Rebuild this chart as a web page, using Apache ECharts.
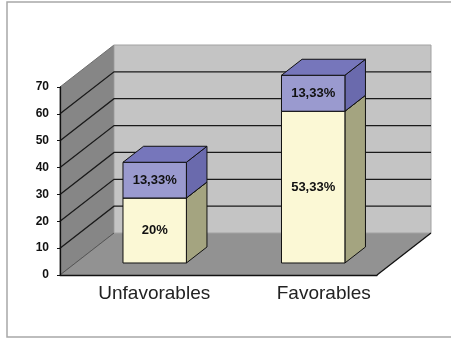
<!DOCTYPE html>
<html>
<head>
<meta charset="utf-8">
<script src="https://cdn.jsdelivr.net/npm/echarts@6/dist/echarts.min.js"></script>
<style>
  html, body { margin: 0; padding: 0; background: #fff; }
  #chart-box { width: 451px; height: 339px; }
</style>
</head>
<body>
<div id="chart-box"></div>
<script>
    // chart values
    var categories = ['Unfavorables', 'Favorables'];
    var lowerValues = [24.2, 56.5];
    var upperValues = [13.3, 13.4];
    var lowerLabels = ['20%', '53,33%'];
    var upperLabels = ['13,33%', '13,33%'];
    var yMax = 70;
    var yStep = 10;

    // pseudo 3d settings
    var DEPTH = [54, -42];
    var BAR_FRONT = 0.286;
    var BAR_BACK = 0.667;
    var FONT = "'Liberation Sans', Arial, sans-serif";

    function renderWalls(params, api) {
        var cs = params.coordSys;
        var x0 = cs.x, x1 = cs.x + cs.width;
        var yT = cs.y, yB = cs.y + cs.height;
        var dx = DEPTH[0], dy = DEPTH[1];
        var children = [];

        // left wall
        children.push({
            type: 'polygon',
            shape: { points: [[x0, yT], [x0 + dx, yT + dy], [x0 + dx, yB + dy], [x0, yB]] },
            style: { fill: '#868686', stroke: '#6e6e6e', lineWidth: 1 }
        });
        // floor
        children.push({
            type: 'polygon',
            shape: { points: [[x0, yB], [x1, yB], [x1 + dx, yB + dy], [x0 + dx, yB + dy]] },
            style: { fill: '#929292', stroke: null }
        });
        // back wall
        children.push({
            type: 'rect',
            shape: { x: x0 + dx, y: yT + dy, width: x1 - x0, height: yB - yT },
            style: { fill: '#c4c4c4', stroke: '#a2a2a2', lineWidth: 1 }
        });
        // grid lines on the walls
        for (var v = 0; v <= yMax; v += yStep) {
            var y = api.coord([0, v])[1];
            if (v === 0) {
                children.push({
                    type: 'line',
                    shape: { x1: x0, y1: y, x2: x0 + dx, y2: y + dy },
                    style: { stroke: '#555', lineWidth: 1 }
                });
                continue;
            }
            if (v === yMax) continue;
            children.push({
                type: 'polyline',
                shape: { points: [[x0, y], [x0 + dx, y + dy], [x1 + dx, y + dy]] },
                style: { stroke: '#1a1a1a', lineWidth: 1.3, fill: null }
            });
        }
        // floor right edge
        children.push({
            type: 'line',
            shape: { x1: x1, y1: yB, x2: x1 + dx, y2: yB + dy },
            style: { stroke: '#111', lineWidth: 1.3 }
        });
        return { type: 'group', children: children };
    }

    function makeBarRenderer(base, labels, colors, showTop) {
        return function (params, api) {
            var i = params.dataIndex;
            var cat = api.value(0);
            var val = api.value(1);
            var start = base ? base[i] : 0;
            var p0 = api.coord([cat, start]);
            var p1 = api.coord([cat, start + val]);
            var w = api.size([1, 0])[0] * 0.4;
            var fx = p0[0] - w / 2 + DEPTH[0] * BAR_FRONT;
            var fy0 = p0[1] + DEPTH[1] * BAR_FRONT;
            var fy1 = p1[1] + DEPTH[1] * BAR_FRONT;
            var ddx = DEPTH[0] * (BAR_BACK - BAR_FRONT);
            var ddy = DEPTH[1] * (BAR_BACK - BAR_FRONT);
            var line = { stroke: '#111', lineWidth: 1 };
            var children = [
                {
                    type: 'polygon',
                    shape: { points: [[fx + w, fy0], [fx + w + ddx, fy0 + ddy], [fx + w + ddx, fy1 + ddy], [fx + w, fy1]] },
                    style: { fill: colors.side, stroke: line.stroke, lineWidth: line.lineWidth }
                },
                {
                    type: 'rect',
                    shape: { x: fx, y: fy1, width: w, height: fy0 - fy1 },
                    style: { fill: colors.front, stroke: line.stroke, lineWidth: line.lineWidth }
                }
            ];
            if (showTop) {
                children.push({
                    type: 'polygon',
                    shape: { points: [[fx, fy1], [fx + w, fy1], [fx + w + ddx, fy1 + ddy], [fx + ddx, fy1 + ddy]] },
                    style: { fill: colors.top, stroke: line.stroke, lineWidth: line.lineWidth }
                });
            }
            children.push({
                type: 'text',
                style: {
                    x: fx + w / 2, y: (fy0 + fy1) / 2,
                    text: labels[i],
                    align: 'center', verticalAlign: 'middle',
                    font: 'bold 13px ' + FONT,
                    fill: '#111'
                }
            });
            return { type: 'group', children: children };
        };
    }

    var myChart = echarts.init(document.getElementById('chart-box'));

    var option = {
        animation: false,
        backgroundColor: '#fff',
        graphic: [{
            type: 'rect',
            shape: { x: 7, y: 2, width: 470, height: 335 },
            style: { fill: null, stroke: '#a8a8a8', lineWidth: 1.5 },
            silent: true
        }],
        grid: { left: 60, right: 74, top: 87, bottom: 64 },
        xAxis: {
            type: 'category',
            data: categories,
            z: 10,
            axisLine: { lineStyle: { color: '#111', width: 1.3 } },
            axisTick: { show: false },
            axisLabel: {
                interval: 0,
                hideOverlap: false,
                color: '#222', fontSize: 19, fontFamily: FONT,
                margin: 9,
                formatter: function (value, index) {
                    return (index === 0 ? '{u|' : '{f|') + value + '}';
                },
                rich: {
                    u: { fontSize: 19, fontFamily: FONT, color: '#222', padding: [0, 0, 0, 30] },
                    f: { fontSize: 19, fontFamily: FONT, color: '#222', padding: [0, 0, 0, 52] }
                }
            },
            splitLine: { show: false }
        },
        yAxis: {
            type: 'value',
            min: 0, max: yMax, interval: yStep,
            z: 10,
            axisLine: { show: true, lineStyle: { color: '#111', width: 1.3 } },
            axisTick: { show: true, length: 3, lineStyle: { color: '#111' } },
            axisLabel: { color: '#111', fontSize: 12, fontWeight: 'bold', fontFamily: FONT, margin: 11 },
            splitLine: { show: false }
        },
        series: [
            {
                type: 'custom',
                name: 'walls',
                clip: false,
                silent: true,
                z: 1,
                renderItem: renderWalls,
                data: [[0, 0]]
            },
            {
                type: 'custom',
                name: 'lower',
                clip: false,
                z: 2,
                renderItem: makeBarRenderer(null, lowerLabels, { front: '#fbf8d5', side: '#a4a480', top: '#d8d6b0' }, true),
                data: lowerValues.map(function (v, i) { return [i, v]; })
            },
            {
                type: 'custom',
                name: 'upper',
                clip: false,
                z: 3,
                renderItem: makeBarRenderer(lowerValues, upperLabels, { front: '#9a9acf', side: '#6a6aad', top: '#7676bb' }, true),
                data: upperValues.map(function (v, i) { return [i, v]; })
            }
        ]
    };

    myChart.setOption(option, true);
</script>
</body>
</html>
